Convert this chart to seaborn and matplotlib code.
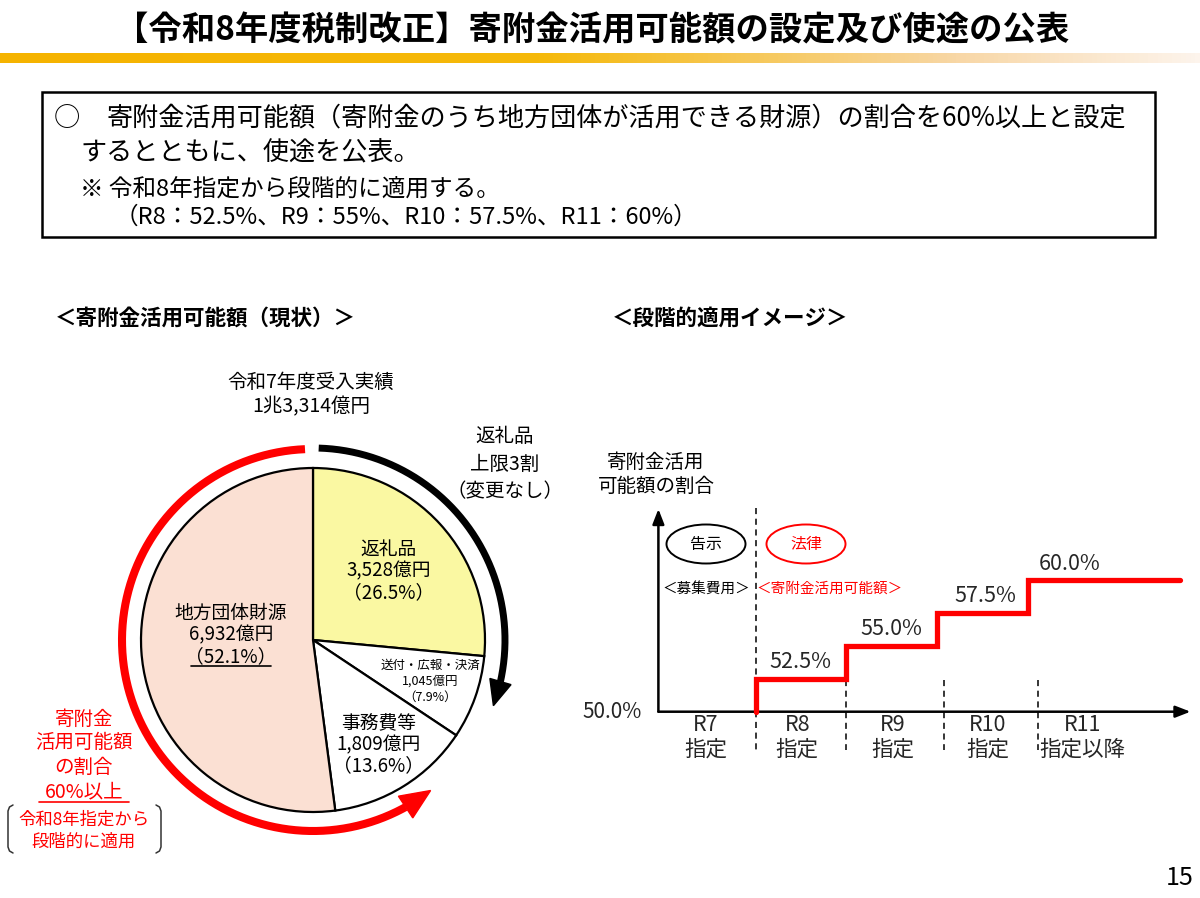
import numpy as np
import pandas as pd
import matplotlib
matplotlib.use("Agg")
import matplotlib.pyplot as plt
import seaborn as sns
from matplotlib.patches import Rectangle, Ellipse, Polygon
from matplotlib.colors import LinearSegmentedColormap

# ---------------- data ----------------
pie_labels = ["返礼品", "送付・広報・決済", "事務費等", "地方団体財源"]
pie_values = [3528, 1045, 1809, 6932]
pie_amounts = ["3,528億円", "1,045億円", "1,809億円", "6,932億円"]
pie_shares = ["（26.5%）", "（7.9%）", "（13.6%）", "（52.1%）"]
pie_colors = ["#FAF8A2", "#FFFFFF", "#FFFFFF", "#FBE0D3"]
total_title = "令和7年度受入実績"
total_value = "1兆3,314億円"

step_periods = ["R7", "R8", "R9", "R10", "R11"]
step_period_sub = ["指定", "指定", "指定", "指定", "指定以降"]
step_rates = [50.0, 52.5, 55.0, 57.5, 60.0]
base_rate = 50.0

title = "【令和8年度税制改正】寄附金活用可能額の設定及び使途の公表"
box_line1 = "寄附金活用可能額（寄附金のうち地方団体が活用できる財源）の割合を60%以上と設定"
box_line2 = "するとともに、使途を公表。"
box_line3 = "※ 令和8年指定から段階的に適用する。"
box_line4 = "（R8：52.5%、R9：55%、R10：57.5%、R11：60%）"

# ---------------- style ----------------
sns.set_style("white")
plt.rcParams["font.family"] = ["Noto Sans CJK JP", "DejaVu Sans"]
RED = "#FF0000"

W, H = 1200, 898
fig = plt.figure(figsize=(W / 100, H / 100), dpi=100)
fig.patch.set_facecolor("white")

# ---------------- pie (center 313,640 ; r 172 px) ----------------
cx, cy, R = 313, 640, 172
ax_pie = fig.add_axes([(cx - R) / W, (H - cy - R) / H, 2 * R / W, 2 * R / H])
ax_pie.pie(pie_values, colors=pie_colors, startangle=90, counterclock=False,
           wedgeprops=dict(edgecolor="black", linewidth=1.6))
ax_pie.set_xlim(-1, 1)
ax_pie.set_ylim(-1, 1)
ax_pie.axis("off")

# ---------------- step chart ----------------
ux = 90.8           # px per period
x0px = 664.7        # px of x=0
ypx0 = 711.7        # px of 50 %
uy = 13.15          # px per %
ax_left_px, ax_right_px, ax_top_px = 658.4, 1190.5, 509
ax2 = fig.add_axes([ax_left_px / W, (H - ypx0) / H,
                    (ax_right_px - ax_left_px) / W, (ypx0 - ax_top_px) / H])
ax2.set_xlim((ax_left_px - x0px) / ux, (ax_right_px - x0px) / ux)
ax2.set_ylim(base_rate, base_rate + (ypx0 - ax_top_px) / uy)
ax2.axis("off")

line_end = 5.68
xs = [1] + list(range(1, len(step_rates))) + [line_end]
ys = [base_rate] + step_rates[1:] + [step_rates[-1]]
step_df = pd.DataFrame({"x": xs, "rate": ys})
sns.lineplot(data=step_df, x="x", y="rate", drawstyle="steps-post", estimator=None,
             sort=False, color=RED, linewidth=3.8, ax=ax2, clip_on=False, zorder=5,
             solid_joinstyle="miter")
ax2.set_xlabel("")
ax2.set_ylabel("")

# axes arrows
ap = dict(arrowstyle="-|>,head_length=0.9,head_width=0.35", color="black", lw=1.8,
          shrinkA=0, shrinkB=0)
ax2.annotate("", xy=(1, 0), xytext=(0, 0), xycoords="axes fraction",
             textcoords="axes fraction", arrowprops=ap, zorder=4)
ax2.annotate("", xy=(0, 1), xytext=(0, 0), xycoords="axes fraction",
             textcoords="axes fraction", arrowprops=ap, zorder=4)

# dashed dividers
ylo = base_rate - (750 - ypx0) / uy
ax2.plot([1, 1], [base_rate + (ypx0 - 508) / uy, ylo], ls=(0, (4, 3)), color="black",
         lw=1.1, clip_on=False)
for xd in [2, 3.08, 4.11]:
    ax2.plot([xd, xd], [step_rates[1] - 0.1, ylo], ls=(0, (4, 3)), color="black",
             lw=1.1, clip_on=False)

# period labels
lab_x = [0.45, 1.46, 2.51, 3.56, 4.6]
for xl, p, s in zip(lab_x, step_periods, step_period_sub):
    ax2.text(xl, base_rate - (725 - ypx0) / uy, p, ha="center", va="center",
             fontsize=15.5, clip_on=False)
    ax2.text(xl, base_rate - (750 - ypx0) / uy, s, ha="center", va="center",
             fontsize=15.5, clip_on=False)

# value labels
val_x = [1.5, 2.5, 3.53, 4.46]
for xv, r in zip(val_x, step_rates[1:]):
    ax2.annotate(f"{r:.1f}%", xy=(xv, r), xytext=(0, 12), textcoords="offset points",
                 ha="center", va="center", fontsize=15.5)
ax2.text((612 - x0px) / ux, base_rate, f"{base_rate:.1f}%", ha="center", va="center",
         fontsize=15, transform=ax2.transData, clip_on=False)

# ---------------- overlay (pixel coordinates) ----------------
ov = fig.add_axes([0, 0, 1, 1])
ov.patch.set_alpha(0)
ov.axis("off")

# gradient bar
cmap = LinearSegmentedColormap.from_list(
    "bar", [(0, "#F5B300"), (0.45, "#F5B90A"), (0.8, "#F8D7A6"), (1, "#FDF4EC")])
ov.imshow(np.linspace(0, 1, 256)[None, :], cmap=cmap, extent=(0, 1200, 63, 53),
          aspect="auto", zorder=1)
ov.set_xlim(0, W)
ov.set_ylim(H, 0)


def T(x, y, s, size, color="black", ha="center", weight="normal"):
    return ov.text(x, y, s, fontsize=size, color=color, ha=ha, va="center",
                   fontweight=weight)


T(592, 31, title, 24, weight="bold")

# box
ov.add_patch(Rectangle((42, 92), 1113, 145, fill=False, edgecolor="black", lw=1.8))
T(67, 118, "○", 19)
T(107, 118, box_line1, 18.8, ha="left")
T(80, 152, box_line2, 18.8, ha="left")
T(80, 190, box_line3, 17, ha="left")
T(115, 217, box_line4, 17, ha="left")

# section headers
T(55, 318, "＜寄附金活用可能額（現状）＞", 15.5, ha="left", weight="bold")
T(612, 318, "＜段階的適用イメージ＞", 15.5, ha="left", weight="bold")

# pie surrounding texts
T(311, 382, total_title, 14)
T(311, 407, total_value, 14)
T(505, 437, "返礼品", 14)
T(505, 464, "上限3割", 14)
T(505, 492, "（変更なし）", 14)

# pie labels
pie_pos = [(389, 549, 22, 13.5), (430, 665, 16, 9), (379, 724, 21, 13.5), (231, 613, 22, 13.5)]
for (px, py, dy, fs), n, a, sh in zip(pie_pos, pie_labels, pie_amounts, pie_shares):
    T(px, py, n, fs)
    T(px, py + dy, a, fs)
    T(px, py + 2 * dy, sh, fs)
ov.plot([191, 271], [666, 666], color="black", lw=1.2)


# arcs with arrowheads
def arc_arrow(t0, t_base, t_tip, r, color, lw, hw):
    th = np.radians(np.linspace(t0, t_base, 200))
    ov.plot(cx + r * np.cos(th), cy - r * np.sin(th), color=color, lw=lw,
            solid_capstyle="butt", zorder=3)
    tb, tt = np.radians(t_base), np.radians(t_tip)
    bx, by = cx + r * np.cos(tb), cy - r * np.sin(tb)
    tx, ty = cx + r * np.cos(tt), cy - r * np.sin(tt)
    d = np.array([tx - bx, ty - by])
    d /= np.linalg.norm(d)
    n = np.array([-d[1], d[0]])
    ov.add_patch(Polygon([(tx, ty), (bx + n[0] * hw, by + n[1] * hw),
                          (bx - n[0] * hw, by - n[1] * hw)], closed=True,
                         facecolor=color, edgecolor=color, zorder=3))


arc_arrow(92.4, 299, 308, 191, RED, 5.8, 13)
arc_arrow(88.3, -12.5, -20, 192, "black", 5.0, 11)

# red side text
T(84, 719, "寄附金", 14, color=RED)
T(84, 743, "活用可能額", 14, color=RED)
T(84, 767, "の割合", 14, color=RED)
T(84, 792, "60%以上", 14, color=RED)
ov.plot([39, 129], [802, 802], color=RED, lw=1.2)
T(84, 820, "令和8年指定から", 12.5, color=RED)
T(84, 842, "段階的に適用", 12.5, color=RED)
ov.plot([13, 9.5, 8, 8, 9.5, 13], [805, 807, 811, 847, 851, 853], color="#333333", lw=1.1)
ov.plot([156, 159.5, 161, 161, 159.5, 156], [805, 807, 811, 847, 851, 853], color="#333333", lw=1.1)

# step chart annotations
T(656, 462, "寄附金活用", 14)
T(656, 486, "可能額の割合", 14)
ov.add_patch(Ellipse((706, 544), 79, 39, fill=False, edgecolor="black", lw=1.4))
ov.add_patch(Ellipse((806, 544), 79, 39, fill=False, edgecolor=RED, lw=1.4))
T(706, 544, "告示", 11.5)
T(806, 544, "法律", 11.5, color=RED)
T(706, 589, "＜募集費用＞", 10.5)
T(830, 589, "＜寄附金活用可能額＞", 10.5, color=RED)

# page number
T(1180, 878, "15", 18)

fig.savefig("out.png", dpi=100, facecolor="white")
